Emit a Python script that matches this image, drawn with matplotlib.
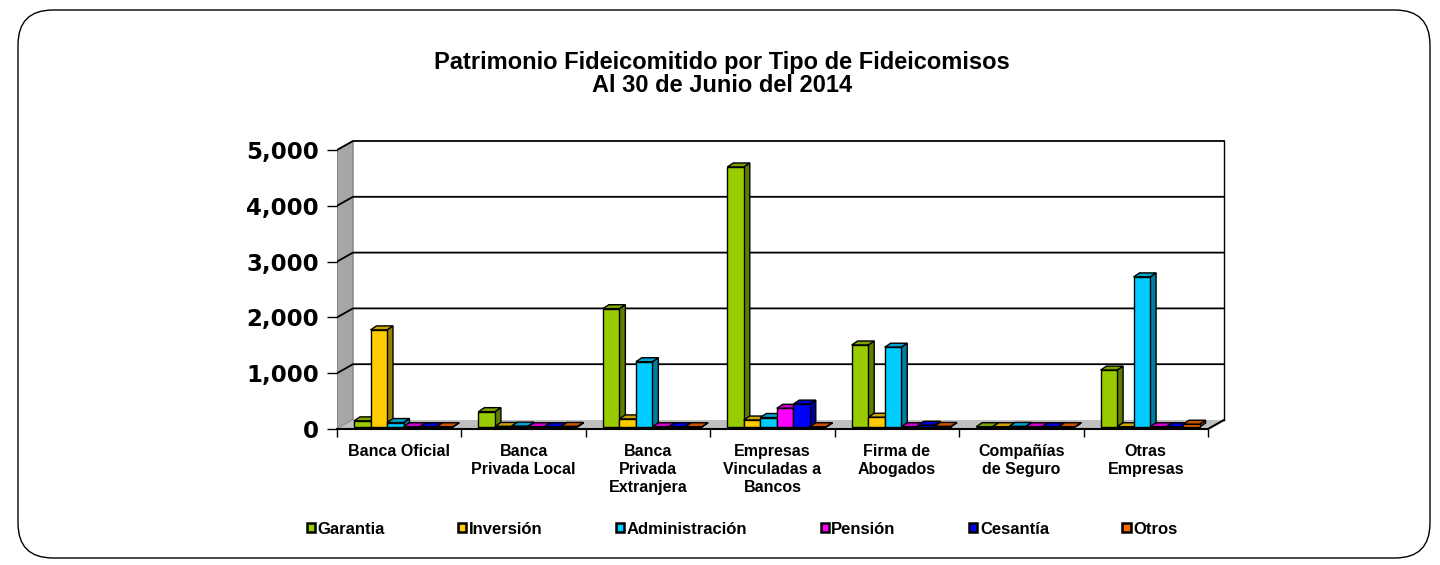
import matplotlib.pyplot as plt
from matplotlib.patches import Polygon, Patch, FancyBboxPatch
from matplotlib.colors import to_rgb

plt.rcParams['font.family'] = ['Liberation Sans', 'DejaVu Sans']

categorias = ["Banca Oficial", "Banca\nPrivada Local", "Banca\nPrivada\nExtranjera",
              "Empresas\nVinculadas a\nBancos", "Firma de\nAbogados",
              "Compañías\nde Seguro", "Otras\nEmpresas"]
series = ["Garantia", "Inversión", "Administración", "Pensión", "Cesantía", "Otros"]
garantia = [110, 275, 2120, 4660, 1470, 5, 1020]
inversion = [1740, 10, 145, 125, 175, 5, 5]
administracion = [80, 15, 1170, 170, 1430, 10, 2690]
pension = [5, 5, 5, 335, 5, 5, 5]
cesantia = [5, 5, 5, 410, 30, 5, 5]
otros = [5, 10, 5, 5, 10, 5, 50]
valores = [garantia, inversion, administracion, pension, cesantia, otros]
colores = ["#99CC00", "#FFCC00", "#00CCFF", "#FF00FF", "#0000FF", "#FF6600"]
yticks = [0, 1000, 2000, 3000, 4000, 5000]


def shade(c, f):
    r, g, b = to_rgb(c)
    return (r * f, g * f, b * f)


W, H = 1440, 565
fig = plt.figure(figsize=(W / 100, H / 100), dpi=100)

# rounded border
bg = fig.add_axes([0, 0, 1, 1])
bg.set_xlim(0, W)
bg.set_ylim(H, 0)
bg.axis('off')
bg.add_patch(FancyBboxPatch((18, 10), 1430 - 18, 558 - 10,
                            boxstyle="round,pad=0,rounding_size=35",
                            fc='white', ec='black', lw=1))

# plot area: x=0 at px 337, one category = 124.43 px; y=0 at px 429, 1000 = 55.8 px
cat_px = 124.43
k_px = 55.8
left_px, right_px, bot_px, top_px = 337, 1240, 429, 130
ax = fig.add_axes([left_px / W, (H - bot_px) / H, (right_px - left_px) / W,
                   (bot_px - top_px) / H])
ax.set_xlim(0, (right_px - left_px) / cat_px)
ax.set_ylim(0, (bot_px - top_px) / k_px * 1000)
ax.patch.set_alpha(0)
for s in ax.spines.values():
    s.set_visible(False)

n = len(categorias)
ddx = 16 / cat_px
ddy = 9 / k_px * 1000
ymax = 5000

# walls and floor
ax.add_patch(Polygon([(0, 0), (ddx, ddy), (ddx, ymax + ddy), (0, ymax)],
                     closed=True, fc='#A6A6A6', ec='#808080', lw=1, zorder=1))
ax.add_patch(Polygon([(0, 0), (n, 0), (n + ddx, ddy), (ddx, ddy)],
                     closed=True, fc='#C0C0C0', ec='none', zorder=1))
ax.plot([n + ddx, n + ddx], [ddy, ymax + ddy], color='black', lw=1, zorder=1.5)
for v in yticks[1:]:
    ax.plot([0, ddx, n + ddx], [v, v + ddy, v + ddy], color='black', lw=1.3, zorder=1.5)

# bars
bar_w = 16.5 / cat_px
bar_x0 = 17 / cat_px
base = 2 / k_px * 1000
bdx = 6 / cat_px
bdy = 4 / k_px * 1000
z = 3
for i in range(n):
    for j, vals in enumerate(valores):
        x0 = i + bar_x0 + j * bar_w
        h = vals[i]
        c = colores[j]
        ax.add_patch(Polygon([(x0 + bar_w, base), (x0 + bar_w + bdx, base + bdy),
                              (x0 + bar_w + bdx, base + h + bdy), (x0 + bar_w, base + h)],
                             closed=True, fc=shade(c, 0.62), ec='black', lw=1, zorder=z))
        ax.add_patch(Polygon([(x0, base + h), (x0 + bar_w, base + h),
                              (x0 + bar_w + bdx, base + h + bdy), (x0 + bdx, base + h + bdy)],
                             closed=True, fc=shade(c, 0.8), ec='black', lw=1, zorder=z + 0.001))
        ax.bar(x0, h, width=bar_w, bottom=base, align='edge', color=c,
               edgecolor='black', lw=1, zorder=z + 0.002)
        z += 0.01

# axis lines
ax.plot([0, n, n + ddx], [0, 0, ddy], color='black', lw=1.5, zorder=10, clip_on=False)

ax.set_yticks(yticks)
ax.set_yticklabels([f"{v:,}" for v in yticks], fontsize=16.5, fontweight='bold',
                   family='DejaVu Sans')
ax.tick_params(axis='y', length=7, width=1, pad=6)
ax.set_xticks([i + 0.5 for i in range(n)])
ax.set_xticklabels(categorias, fontsize=11.5, fontweight='bold', linespacing=1.25, va='top')
ax.set_xticks(range(n + 1), minor=True)
ax.tick_params(axis='x', which='major', length=0, pad=11)
ax.tick_params(axis='x', which='minor', length=6, width=1)

fig.text(722 / W, 1 - 62 / H, "Patrimonio Fideicomitido por Tipo de Fideicomisos",
         ha='center', va='center', fontsize=17, fontweight='bold')
fig.text(722 / W, 1 - 85 / H, "Al 30 de Junio del 2014",
         ha='center', va='center', fontsize=17, fontweight='bold')

handles = [Patch(fc=c, ec='black', lw=1.8) for c in colores]
fig.legend(handles, series, loc='center', bbox_to_anchor=(742 / W, 1 - 529 / H),
           ncol=6, frameon=False, handlelength=0.5, handleheight=0.5,
           handletextpad=0.15, columnspacing=4.4,
           prop={'weight': 'bold', 'size': 12})

fig.savefig('out.png', dpi=100)
